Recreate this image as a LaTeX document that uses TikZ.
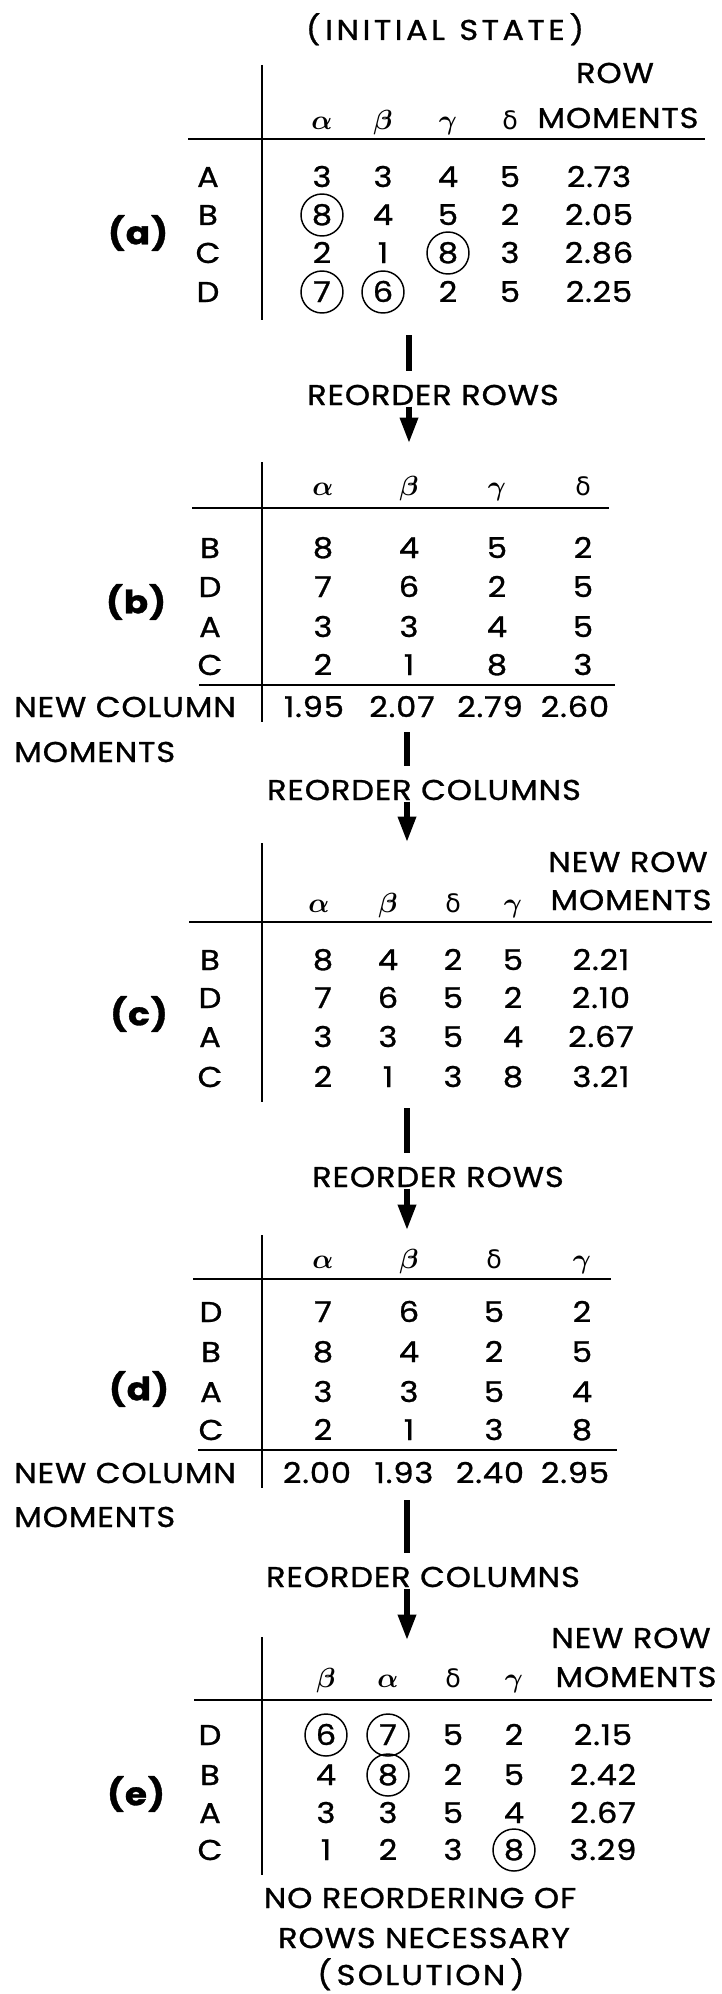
\documentclass[tikz,border=0pt]{standalone}
\usepackage{bm}
\usepackage{fontspec}
\setmainfont{Poppins}[FakeStretch=1.12,LetterSpace=3,FakeBold=1]
\newfontfamily\greekfont{DejaVu Sans}
\usetikzlibrary{arrows.meta}

\begin{document}
\begin{tikzpicture}[x=0.75pt,y=-0.75pt,
        txt/.style={font=\fontsize{21.5}{24}\selectfont,inner sep=0pt,text height=15pt,text depth=0pt},
        part/.style={font=\fontsize{24}{27}\selectfont\bfseries,inner sep=0pt},
        tline/.style={line width=1.7pt},
        bar/.style={line width=5.2pt,shorten >=10pt},
        arr/.style={line width=4pt,shorten <=1pt,-{Triangle[length=19pt,width=13pt]}},
        ring/.style={draw,circle,line width=1.1pt,minimum size=31.5pt,inner sep=0pt}]

        \useasboundingbox (0,0) rectangle (721,1994);

        % (a) initial state
        \node[txt] (title) at (445,30) {\addfontfeature{LetterSpace=12}(\,INITIAL\enspace STATE\,)};
        \draw[tline] (262,65) -- (262,320);
        \draw[tline] (188,139) -- (705,139);
        \node[txt] (aha) at (322,120) {$\bm{\alpha}$};
        \node[txt] (ahb) at (383,120) {$\bm{\beta}$};
        \node[txt] (ahc) at (448,120) {$\bm{\gamma}$};
        \node[txt] (ahd) at (510,120) {\greekfont\fontsize{19}{22}\selectfont δ};
        \node[txt] (arow) at (615,73) {ROW};
        \node[txt] (amom) at (618,118) {MOMENTS};
        \foreach \r/\y/\p/\q/\s/\t/\m in {A/177/3/3/4/5/2.73, B/215/8/4/5/2/2.05, C/253/2/1/8/3/2.86, D/292/7/6/2/5/2.25}{
            \node[txt] (a\r) at (208,\y) {\r};
            \node[txt] (a\r1) at (322,\y) {\p};
            \node[txt] (a\r2) at (383,\y) {\q};
            \node[txt] (a\r3) at (448,\y) {\s};
            \node[txt] (a\r4) at (510,\y) {\t};
            \node[txt] (a\r5) at (599,\y) {\m};
        }
        \node[part] (la) at (138,233) {(a)};
        \node[ring] (ra1) at (aB1) {};
        \node[ring] (ra2) at (aC3) {};
        \node[ring] (ra3) at (aD1) {};
        \node[ring] (ra4) at (aD2) {};

        \coordinate (s1) at (409,335);
        \coordinate (t1) at (409,443);
        \node[txt] (rr1) at (433,395) {REORDER ROWS};
        \draw[bar] (s1) -- (s1 |- rr1.north);
        \draw[arr] (rr1.south -| s1) -- (t1);

        % (b)
        \draw[tline] (262,462) -- (262,722);
        \draw[tline] (192,508) -- (609,508);
        \draw[tline] (199,685) -- (615,685);
        \node[txt] (bha) at (323,485) {$\bm{\alpha}$};
        \node[txt] (bhb) at (409,485) {$\bm{\beta}$};
        \node[txt] (bhc) at (497,485) {$\bm{\gamma}$};
        \node[txt] (bhd) at (583,485) {\greekfont\fontsize{19}{22}\selectfont δ};
        \foreach \r/\y/\p/\q/\s/\t in {B/548/8/4/5/2, D/587/7/6/2/5, A/627/3/3/4/5, C/665/2/1/8/3}{
            \node[txt] (b\r) at (210,\y) {\r};
            \node[txt] (b\r1) at (323,\y) {\p};
            \node[txt] (b\r2) at (409,\y) {\q};
            \node[txt] (b\r3) at (497,\y) {\s};
            \node[txt] (b\r4) at (583,\y) {\t};
        }
        \node[txt,anchor=west] (bnc) at (14,707) {NEW COLUMN};
        \node[txt,anchor=west] (bmo) at (14,752) {MOMENTS};
        \node[txt] (bm1) at (314,707) {1.95};
        \node[txt] (bm2) at (402,707) {2.07};
        \node[txt] (bm3) at (490,707) {2.79};
        \node[txt] (bm4) at (575,707) {2.60};
        \node[part] (lb) at (136,602) {(b)};

        \coordinate (s2) at (407,732);
        \coordinate (t2) at (407,842);
        \node[txt] (rc1) at (424,790) {REORDER COLUMNS};
        \draw[bar] (s2) -- (s2 |- rc1.north);
        \draw[arr] (rc1.south -| s2) -- (t2);

        % (c)
        \draw[tline] (262,843) -- (262,1102);
        \draw[tline] (189,922) -- (712,922);
        \node[txt] (cha) at (319,902) {$\bm{\alpha}$};
        \node[txt] (chb) at (388,902) {$\bm{\beta}$};
        \node[txt] (chd) at (453,902) {\greekfont\fontsize{19}{22}\selectfont δ};
        \node[txt] (chc) at (513,902) {$\bm{\gamma}$};
        \node[txt] (cnr) at (628,862) {NEW ROW};
        \node[txt] (cmo) at (631,900) {MOMENTS};
        \foreach \r/\y/\p/\q/\s/\t/\m in {B/960/8/4/2/5/2.21, D/998/7/6/5/2/2.10, A/1037/3/3/5/4/2.67, C/1077/2/1/3/8/3.21}{
            \node[txt] (c\r) at (210,\y) {\r};
            \node[txt] (c\r1) at (323,\y) {\p};
            \node[txt] (c\r2) at (388,\y) {\q};
            \node[txt] (c\r3) at (453,\y) {\s};
            \node[txt] (c\r4) at (513,\y) {\t};
            \node[txt] (c\r5) at (601,\y) {\m};
        }
        \node[part] (lc) at (139,1014) {(c)};

        \coordinate (s3) at (407,1108);
        \coordinate (t3) at (407,1230);
        \node[txt] (rr2) at (438,1177) {REORDER ROWS};
        \draw[bar] (s3) -- (s3 |- rr2.north);
        \draw[arr] (rr2.south -| s3) -- (t3);

        % (d)
        \draw[tline] (262,1235) -- (262,1488);
        \draw[tline] (193,1279) -- (611,1279);
        \draw[tline] (198,1450) -- (617,1450);
        \node[txt] (dha) at (323,1258) {$\bm{\alpha}$};
        \node[txt] (dhb) at (409,1258) {$\bm{\beta}$};
        \node[txt] (dhd) at (494,1258) {\greekfont\fontsize{19}{22}\selectfont δ};
        \node[txt] (dhc) at (582,1258) {$\bm{\gamma}$};
        \foreach \r/\y/\p/\q/\s/\t in {D/1312/7/6/5/2, B/1352/8/4/2/5, A/1392/3/3/5/4, C/1430/2/1/3/8}{
            \node[txt] (d\r) at (211,\y) {\r};
            \node[txt] (d\r1) at (323,\y) {\p};
            \node[txt] (d\r2) at (409,\y) {\q};
            \node[txt] (d\r3) at (494,\y) {\s};
            \node[txt] (d\r4) at (582,\y) {\t};
        }
        \node[txt,anchor=west] (dnc) at (14,1473) {NEW COLUMN};
        \node[txt,anchor=west] (dmo) at (14,1517) {MOMENTS};
        \node[txt] (dm1) at (317,1473) {2.00};
        \node[txt] (dm2) at (404,1473) {1.93};
        \node[txt] (dm3) at (490,1473) {2.40};
        \node[txt] (dm4) at (575,1473) {2.95};
        \node[part] (ld) at (139,1389) {(d)};

        \coordinate (s4) at (407,1500);
        \coordinate (t4) at (407,1640);
        \node[txt] (rc2) at (423,1577) {REORDER COLUMNS};
        \draw[bar] (s4) -- (s4 |- rc2.north);
        \draw[arr] (rc2.south -| s4) -- (t4);

        % (e) solution
        \draw[tline] (262,1637) -- (262,1875);
        \draw[tline] (194,1700) -- (712,1700);
        \node[txt] (ehb) at (326,1677) {$\bm{\beta}$};
        \node[txt] (eha) at (388,1677) {$\bm{\alpha}$};
        \node[txt] (ehd) at (453,1677) {\greekfont\fontsize{19}{22}\selectfont δ};
        \node[txt] (ehc) at (514,1677) {$\bm{\gamma}$};
        \node[txt] (enr) at (631,1638) {NEW ROW};
        \node[txt] (emo) at (636,1677) {MOMENTS};
        \foreach \r/\y/\p/\q/\s/\t/\m in {D/1735/6/7/5/2/2.15, B/1775/4/8/2/5/2.42, A/1813/3/3/5/4/2.67, C/1850/1/2/3/8/3.29}{
            \node[txt] (e\r) at (210,\y) {\r};
            \node[txt] (e\r1) at (326,\y) {\p};
            \node[txt] (e\r2) at (388,\y) {\q};
            \node[txt] (e\r3) at (453,\y) {\s};
            \node[txt] (e\r4) at (514,\y) {\t};
            \node[txt] (e\r5) at (603,\y) {\m};
        }
        \node[part] (le) at (136,1794) {(e)};
        \node[ring] (re1) at (eD1) {};
        \node[ring] (re2) at (eD2) {};
        \node[ring] (re3) at (eB2) {};
        \node[ring] (re4) at (eC4) {};

        \node[txt] (nr1) at (420,1898) {NO REORDERING OF};
        \node[txt] (nr2) at (424,1938) {ROWS NECESSARY};
        \node[txt] (nr3) at (421,1975) {\addfontfeature{LetterSpace=8}(\,SOLUTION\,)};

    \end{tikzpicture}
\end{document}
